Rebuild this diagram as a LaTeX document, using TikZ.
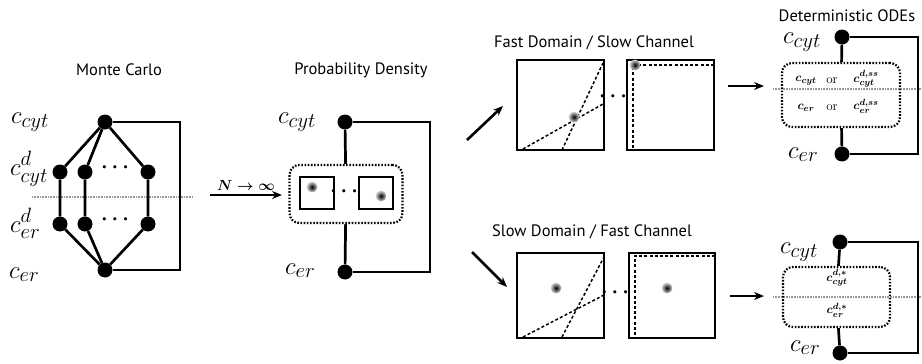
\documentclass[tikz,border=0pt]{standalone}
\usepackage{amsmath}
\usepackage{fontspec}
\newfontfamily\titlefont{PT Sans}
\usetikzlibrary{arrows.meta}
\begin{document}
\begin{tikzpicture}[x=1pt,y=-1pt,
  dot/.style={circle,fill=black,inner sep=0pt,minimum size=15pt},
  wire/.style={line width=2.7pt},
  lbl/.style={font=\fontsize{24.88}{28}\selectfont,inner sep=0pt,anchor=base west},
  ttl/.style={font=\titlefont\fontsize{16.5}{18}\selectfont},
  dotbox/.style={draw,line width=2.2pt,dash pattern=on 1.6pt off 1.6pt,rounded corners=10pt,inner sep=0pt},
  midline/.style={gray!80,dash pattern=on 1pt off 0.6pt,line width=1.6pt},
  sq/.style={draw,line width=1.8pt,inner sep=0pt},
  dline/.style={line width=1.5pt,dash pattern=on 3pt off 2.2pt},
  arr/.style={line width=2.6pt,-{Stealth[length=10pt,width=8pt]}},
  blob/.style={circle,inner sep=0pt,minimum size=11pt,inner color=black,outer color=gray!30},
  ell/.style={font=\fontsize{20}{22}\selectfont\boldmath,inner sep=0pt},
  small/.style={font=\fontsize{13}{15}\selectfont\boldmath,inner sep=0pt},
]
\useasboundingbox (0,0) rectangle (922,364);

% ---------- Monte Carlo ----------
\node[ttl] (t1) at (119,70) {Monte Carlo};
\coordinate (m1) at (32,197); \coordinate (m2) at (193,197);
\draw[midline] (m1) -- (m2);
\node[dot] (T) at (105,122) {};
\node[dot] (u1) at (60,172) {};
\node[dot] (u2) at (85,172) {};
\node[dot] (u3) at (148,172) {};
\node[dot] (l1) at (60,224) {};
\node[dot] (l2) at (85,224) {};
\node[dot] (l3) at (148,224) {};
\node[dot] (B) at (105,270) {};
\node[ell] (ud) at (117,168) {$\cdots$};
\node[ell] (ld) at (117,220) {$\cdots$};
\draw[wire] (T) -- (u1) -- (l1) -- (B);
\draw[wire] (T) -- (u2) -- (l2) -- (B);
\draw[wire] (T) -- (u3) -- (l3) -- (B);
\coordinate (f1) at (180,122); \coordinate (f2) at (180,270);
\draw[wire] (T) -- (f1) -- (f2) -- (B);
\node[lbl] (lc1) at (11,123) {$c_{cyt}$};
\node[lbl] (lc2) at (10,175) {$c^{d}_{cyt}$};
\node[lbl] (lc3) at (10,232) {$c^{d}_{er}$};
\node[lbl] (lc4) at (9,278) {$c_{er}$};

% ---------- arrow N -> infinity ----------
\coordinate (a1s) at (210,195); \coordinate (a1e) at (282,195);
\draw[arr] (a1s) -- node[above,font=\fontsize{14.4}{16}\selectfont\boldmath,inner sep=3pt] (nlab) {$N\to\infty$} (a1e);

% ---------- Probability Density ----------
\node[ttl] (t2) at (361,70) {Probability Density};
\node[dot] (PT) at (345,122) {};
\node[dot] (PB) at (345,272) {};
\node[dotbox,minimum width=113pt,minimum height=58pt] (PBox) at (346,194) {};
\draw[wire] (PT) -- (PBox);
\draw[wire] (PBox) -- (PB);
\coordinate (pf1) at (430,122); \coordinate (pf2) at (430,272);
\draw[wire] (PT) -- (pf1) -- (pf2) -- (PB);
\node[lbl] (pl1) at (278,123) {$c_{cyt}$};
\node[lbl] (pl2) at (285,274) {$c_{er}$};
\node[sq,minimum width=34pt,minimum height=32pt] (ps1) at (317,193) {};
\node[sq,minimum width=34pt,minimum height=32pt] (ps2) at (376,193) {};
\node[blob] (pb1) at (312,187) {};
\node[blob] (pb2) at (381,196) {};
\node[ell] (pd) at (346,192) {$\cdots$};

% ---------- branch arrows ----------
\coordinate (b1s) at (467,140); \coordinate (b1e) at (503,106);
\draw[arr] (b1s) -- (b1e);
\coordinate (b2s) at (472,252); \coordinate (b2e) at (507,287);
\draw[arr] (b2s) -- (b2e);

% ---------- Fast Domain / Slow Channel ----------
\node[ttl] (t3) at (594,43) {Fast Domain / Slow Channel};
\node[sq,minimum width=87pt,minimum height=90pt] (fa) at (560.5,105) {};
\coordinate (fa1) at (523,149); \coordinate (fa2) at (603,104);
\coordinate (fa3) at (562,150); \coordinate (fa4) at (603,63);
\draw[dline] (fa1) -- (fa2);
\draw[dline] (fa3) -- (fa4);
\node[blob] (fab) at (574,117) {};
\node[ell] (fd) at (615,97) {$\cdots$};
\node[sq,minimum width=87pt,minimum height=90pt] (fb) at (670.5,105) {};
\coordinate (fb1) at (714,65); \coordinate (fb2) at (633,65); \coordinate (fb3) at (633,150);
\draw[dline] (fb1) -- (fb2) -- (fb3);
\node[blob] (fbb) at (635,65) {};

% ---------- Slow Domain / Fast Channel ----------
\node[ttl] (t4) at (592,232) {Slow Domain / Fast Channel};
\node[sq,minimum width=87pt,minimum height=85pt] (sa) at (560.5,295.5) {};
\coordinate (sa1) at (523,337); \coordinate (sa2) at (604,295);
\coordinate (sa3) at (562,337); \coordinate (sa4) at (604,257);
\draw[dline] (sa1) -- (sa2);
\draw[dline] (sa3) -- (sa4);
\node[blob] (sab) at (556,288) {};
\node[ell] (sd) at (617,293) {$\cdots$};
\node[sq,minimum width=86pt,minimum height=85pt] (sb) at (672,295.5) {};
\coordinate (sb1) at (715,256); \coordinate (sb2) at (635,256); \coordinate (sb3) at (635,338);
\draw[dline] (sb1) -- (sb2) -- (sb3);
\node[blob] (sbb) at (667,288) {};

% ---------- output arrows ----------
\coordinate (o1s) at (728,86); \coordinate (o1e) at (764,86);
\draw[arr] (o1s) -- (o1e);
\coordinate (o2s) at (730,296); \coordinate (o2e) at (764,296);
\draw[arr] (o2s) -- (o2e);

% ---------- Deterministic ODEs (top) ----------
\node[ttl] (t5) at (847,16) {Deterministic ODEs};
\coordinate (d1) at (773,89); \coordinate (d2) at (922,89);
\draw[midline] (d1) -- (d2);
\node[dotbox,minimum width=118pt,minimum height=64pt] (db1) at (841,95) {};
\node[dot] (DT) at (842,37) {};
\node[dot] (DB) at (842,154) {};
\draw[wire] (DT) -- (db1);
\draw[wire] (db1) -- (DB);
\coordinate (df1) at (918,37); \coordinate (df2) at (918,154);
\draw[wire] (DT) -- (df1) -- (df2) -- (DB);
\node[lbl] (dl1) at (783,43) {$c_{cyt}$};
\node[lbl] (dl2) at (788,158) {$c_{er}$};
\node[small] (r1a) at (806,81) {$c_{cyt}$};
\node[small] (r1b) at (832,81) {or};
\node[small] (r1c) at (866,79) {$c^{d,ss}_{cyt}$};
\node[small] (r2a) at (806,108) {$c_{er}$};
\node[small] (r2b) at (832,108) {or};
\node[small] (r2c) at (866,106) {$c^{d,ss}_{er}$};

% ---------- Deterministic ODEs (bottom) ----------
\coordinate (e1) at (773,297); \coordinate (e2) at (922,297);
\draw[midline] (e1) -- (e2);
\node[dotbox,minimum width=107pt,minimum height=60pt] (db2) at (836.5,297) {};
\node[dot] (ET) at (840,242) {};
\node[dot] (EB) at (840,353) {};
\draw[wire] (ET) -- (db2);
\draw[wire] (db2) -- (EB);
\coordinate (ef1) at (918,242); \coordinate (ef2) at (918,353);
\draw[wire] (ET) -- (ef1) -- (ef2) -- (EB);
\node[lbl] (el1) at (780,253) {$c_{cyt}$};
\node[lbl] (el2) at (790,351) {$c_{er}$};
\node[small] (s1) at (837,278) {$c^{d,*}_{cyt}$};
\node[small] (s2) at (837,310) {$c^{d,*}_{er}$};
\end{tikzpicture}
\end{document}
